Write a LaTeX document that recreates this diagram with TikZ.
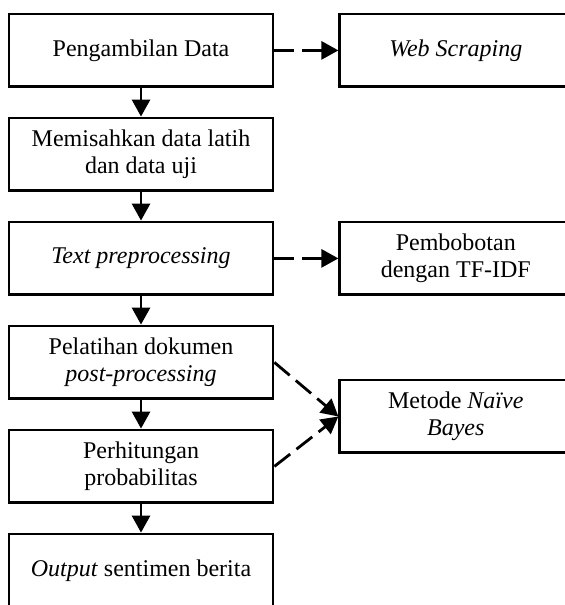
\documentclass[tikz,border=0pt]{standalone}
\usepackage{fontspec}
\setmainfont{Liberation Serif}
\usetikzlibrary{positioning,arrows.meta,calc}
\tikzset{
  box/.style={draw, line width=1.4pt, minimum width=132pt, minimum height=36.4pt,
    align=center, inner sep=2pt, font=\fontsize{12pt}{13.4pt}\selectfont},
  sidebox/.style={box, minimum width=116pt},
  flow/.style={line width=1.4pt, -{Triangle[length=8.5pt,width=9pt]}},
  side/.style={flow, dash pattern=on 10pt off 4pt},
}
\begin{document}
\begin{tikzpicture}[node distance=14.2pt and 32pt]
\useasboundingbox (0,0) rectangle (282pt,-302.5pt);
% main flow
\node[box] (ambil) at (70.5pt,-25.2pt) {Pengambilan Data};
\node[box, below=of ambil] (pisah) {Memisahkan data latih\\dan data uji};
\node[box, below=of pisah] (prepro) {\textit{Text preprocessing}};
\node[box, below=of prepro] (latih) {Pelatihan dokumen\\\textit{post-processing}};
\node[box, below=of latih] (hitung) {Perhitungan\\probabilitas};
\node[box, below=of hitung] (hasil) {\textit{Output} sentimen berita};
% side boxes
\node[sidebox, right=of ambil] (scrap) {\textit{Web Scraping}};
\node[sidebox, right=of prepro] (bobot) {Pembobotan\\dengan TF-IDF};
\coordinate (tengah) at ($(latih.east)!0.52!(hitung.east)$);
\node[sidebox, right=of tengah] (bayes) {Metode \textit{Naïve}\\\textit{Bayes}};
% connectors
\draw[flow] (ambil) -- (pisah);
\draw[flow] (pisah) -- (prepro);
\draw[flow] (prepro) -- (latih);
\draw[flow] (latih) -- (hitung);
\draw[flow] (hitung) -- (hasil);
\draw[side] (ambil) -- (scrap);
\draw[side] (prepro) -- (bobot);
\draw[side] (latih.east) -- (bayes.west);
\draw[side] (hitung.east) -- (bayes.west);
\end{tikzpicture}
\end{document}
